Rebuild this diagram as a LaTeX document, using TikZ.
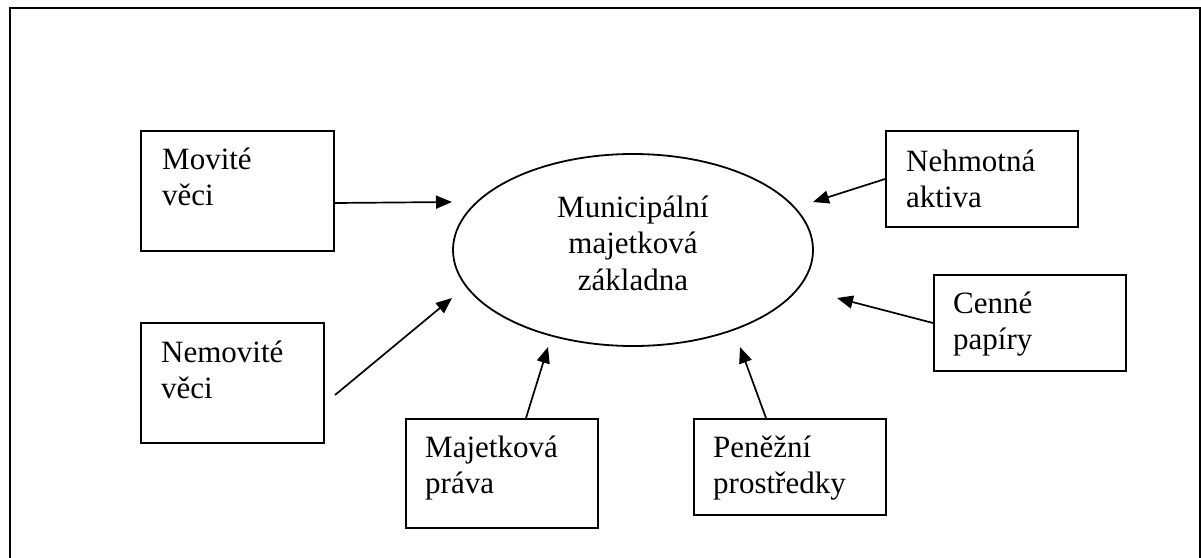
\documentclass[tikz,border=0pt]{standalone}
\usepackage{fontspec}
\setmainfont{Liberation Serif}
\usetikzlibrary{shapes.geometric,arrows.meta,calc}
\newcommand{\twolines}[2]{\parbox[t]{300pt}{\raggedright #1\\#2}}
\tikzset{
  box/.style={draw, line width=2pt, rectangle, inner sep=0pt, anchor=north west},
  txt/.style={anchor=base west, inner sep=0pt},
  conn/.style={line width=1.7pt, -{Triangle[length=16pt,width=13pt]}},
  frame/.style={line width=2.6pt}
}
\begin{document}
\begin{tikzpicture}[x=1pt,y=-1pt,font=\fontsize{31}{36.5}\selectfont]
\useasboundingbox (0,0) rectangle (1201,557);
\draw[frame] (10,600) -- (10,8) -- (1200,8) -- (1200,600);
% central ellipse
\node[ellipse, draw, line width=1.8pt, minimum width=360pt, minimum height=192pt, inner sep=0pt] (mm) at (633,250) {};
\node[anchor=base, inner sep=0pt] (mmt) at (633,217) {\parbox[t]{300pt}{\centering Municipální\\majetková\\základna}};
% boxes
\node[box, minimum width=193pt, minimum height=120pt] (mov) at (140,130) {};
\node[txt] (movt) at (162,169) {\twolines{Movité}{věci}};
\node[box, minimum width=183pt, minimum height=120pt] (nem) at (140,322) {};
\node[txt] (nemt) at (161,362) {\twolines{Nemovité}{věci}};
\node[box, minimum width=192pt, minimum height=109pt] (maj) at (405,418) {};
\node[txt] (majt) at (425,457) {\twolines{Majetková}{práva}};
\node[box, minimum width=192pt, minimum height=96pt] (pen) at (693,418) {};
\node[txt] (pent) at (713,457) {\twolines{Peněžní}{prostředky}};
\node[box, minimum width=192pt, minimum height=96pt] (cen) at (933,274) {};
\node[txt] (cent) at (953,313) {\twolines{Cenné}{papíry}};
\node[box, minimum width=192pt, minimum height=96pt] (neh) at (885,130) {};
\node[txt] (neht) at (906,171) {\twolines{Nehmotná}{aktiva}};
% arrow tips
\coordinate (tmov) at (452,202);
\coordinate (tnem) at (452,298);
\coordinate (tmaj) at (548,347);
\coordinate (tpen) at (740,347);
\coordinate (tcen) at (837,298);
\coordinate (tneh) at (813,202);
% connectors
\draw[conn] ([yshift=-12pt]mov.east) -- (tmov);
\draw[conn] ([shift={(10pt,-12pt)}]nem.east) -- (tnem);
\draw[conn] ([xshift=24pt]maj.north) -- (tmaj);
\draw[conn] ([xshift=-24pt]pen.north) -- (tpen);
\draw[conn] (cen.west) -- (tcen);
\draw[conn] (neh.west) -- (tneh);
\end{tikzpicture}
\end{document}
